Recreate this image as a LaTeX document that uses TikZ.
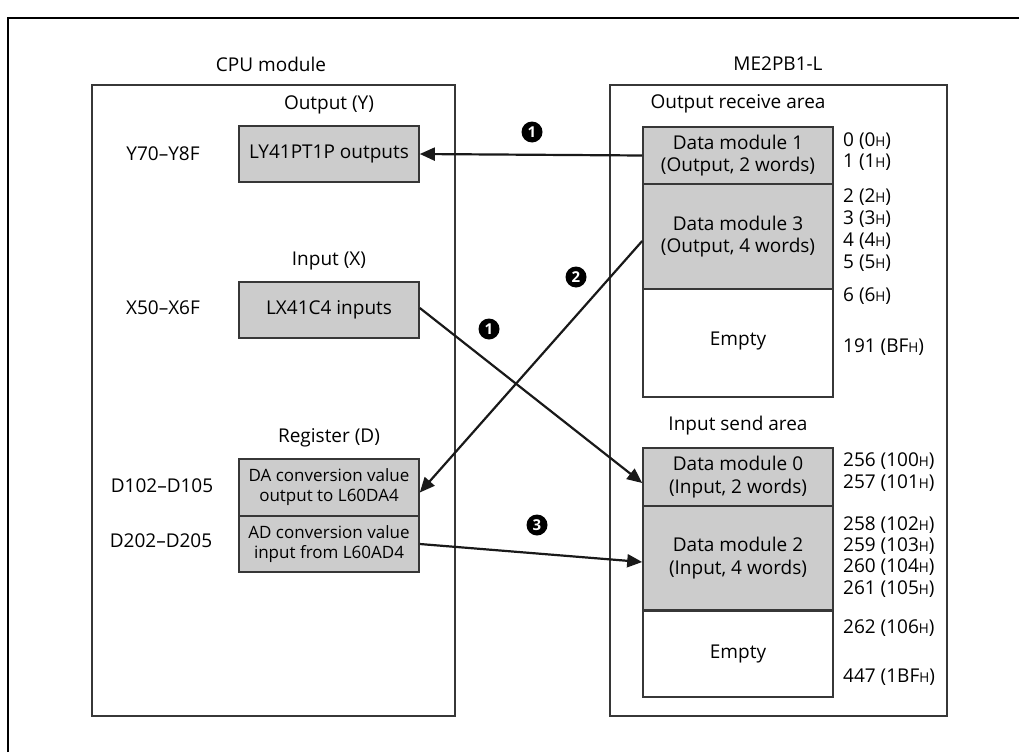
\documentclass[tikz,border=0pt]{standalone}
\usepackage{fontspec}
\setmainfont{Open Sans}
\usetikzlibrary{arrows.meta}
\definecolor{boxgray}{RGB}{204,204,204}
\definecolor{edgegray}{RGB}{55,55,55}
\newcommand{\hexh}{{\fontsize{13.5}{13.5}\selectfont H}}
\begin{document}
\begin{tikzpicture}[x=1pt,y=-1pt,
  font=\fontsize{19}{22.5}\selectfont,
  area/.style={draw=edgegray, line width=1.8pt, inner sep=0pt},
  cell/.style={draw=edgegray, line width=1.6pt, fill=boxgray, inner sep=0pt, align=center},
  emptycell/.style={draw=edgegray, line width=1.6pt, fill=white, inner sep=0pt, align=center},
  small/.style={font=\fontsize{17}{20}\selectfont},
  lbl/.style={inner sep=0pt},
  addr/.style={inner sep=0pt, anchor=west},
  conn/.style={line width=2.2pt, draw=black!90, -{Triangle[length=15pt,width=13pt]}},
  badge/.style={circle, fill=black, text=white, inner sep=0pt, minimum size=21pt, font=\fontsize{15}{15}\selectfont\bfseries}
]
\useasboundingbox (0,0) rectangle (1019,752);
% outer frame (clipped on right and bottom)
\coordinate (fbl) at (8,752);
\coordinate (ftl) at (8,18);
\coordinate (ftr) at (1019,18);
\draw[line width=2.5pt] (fbl) -- (ftl) -- (ftr);

% titles
\node[lbl] (cputitle) at (271,64) {CPU module};
\node[lbl] (metitle) at (778,64) {ME2PB1-L};

% module frames
\node[area, minimum width=363pt, minimum height=631pt] (cpubox) at (273.5,400.5) {};
\node[area, minimum width=337pt, minimum height=631pt] (mebox) at (778.5,400.5) {};

% CPU side
\node[lbl] (outy) at (329,105) {Output (Y)};
\node[cell, minimum width=180pt, minimum height=56pt] (ly) at (329,154) {LY41PT1P outputs};
\node[lbl] (yrange) at (163,154) {Y70--Y8F};

\node[lbl] (inx) at (329,261) {Input (X)};
\node[cell, minimum width=180pt, minimum height=56pt] (lx) at (329,310) {LX41C4 inputs};
\node[lbl] (xrange) at (163,308) {X50--X6F};

\node[lbl] (regd) at (329,438) {Register (D)};
\node[cell, small, minimum width=180pt, minimum height=57pt] (da) at (329,487.5) {DA conversion value\\output to L60DA4};
\node[cell, small, minimum width=180pt, minimum height=56pt] (ad) at (329,544) {AD conversion value\\input from L60AD4};
\node[lbl] (d1range) at (162,486) {D102--D105};
\node[lbl] (d2range) at (161,541) {D202--D205};

% ME2PB1-L side
\node[lbl] (ora) at (738,104) {Output receive area};
\node[cell, minimum width=190pt, minimum height=57pt] (dm1) at (738,155.5) {Data module 1\\(Output, 2 words)};
\node[cell, minimum width=190pt, minimum height=105pt] (dm3) at (738,236.5) {Data module 3\\(Output, 4 words)};
\node[emptycell, minimum width=190pt, minimum height=108pt] (emp1) at (738,343) {\raisebox{9pt}{Empty}};

\node[lbl] (isa) at (738,426) {Input send area};
\node[cell, minimum width=190pt, minimum height=58pt] (dm0) at (738,477) {Data module 0\\(Input, 2 words)};
\node[cell, minimum width=190pt, minimum height=104pt] (dm2) at (738,558) {Data module 2\\(Input, 4 words)};
\node[emptycell, minimum width=190pt, minimum height=86pt] (emp2) at (738,654) {Empty};

% addresses
\node[addr] (a0) at (843,141) {0 (0\hexh)};
\node[addr] (a1) at (843,162) {1 (1\hexh)};
\node[addr] (a2) at (843,197) {2 (2\hexh)};
\node[addr] (a3) at (843,219) {3 (3\hexh)};
\node[addr] (a4) at (843,241) {4 (4\hexh)};
\node[addr] (a5) at (843,263) {5 (5\hexh)};
\node[addr] (a6) at (843,296) {6 (6\hexh)};
\node[addr] (a191) at (843,347) {191 (BF\hexh)};

\node[addr] (a256) at (843,461) {256 (100\hexh)};
\node[addr] (a257) at (843,483) {257 (101\hexh)};
\node[addr] (a258) at (843,525) {258 (102\hexh)};
\node[addr] (a259) at (843,546) {259 (103\hexh)};
\node[addr] (a260) at (843,567) {260 (104\hexh)};
\node[addr] (a261) at (843,589) {261 (105\hexh)};
\node[addr] (a262) at (843,628) {262 (106\hexh)};
\node[addr] (a447) at (843,677) {447 (1BF\hexh)};

% connectors
\draw[conn] (dm1.west) -- (ly.east);
\draw[conn] ([yshift=2pt]lx.east) -- ([yshift=-6pt]dm0.west);
\draw[conn] ([yshift=-4.5pt]dm3.west) -- ([yshift=-5pt]da.east);
\draw[conn] (ad.east) -- ([yshift=-4pt]dm2.west);

% badges
\node[badge] (b1) at (532,132) {1};
\node[badge] (b2) at (576,277) {2};
\node[badge] (b1b) at (489,329) {1};
\node[badge] (b3) at (537,525) {3};
\end{tikzpicture}
\end{document}
